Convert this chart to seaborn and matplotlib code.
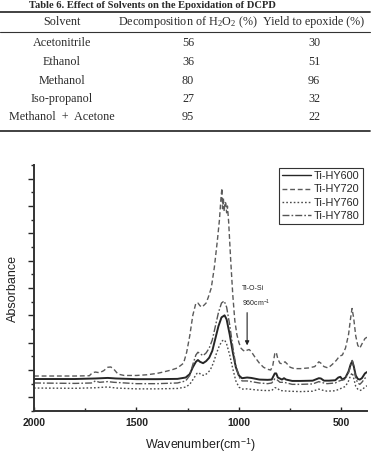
import matplotlib
matplotlib.use("Agg")
import matplotlib.pyplot as plt
from matplotlib.lines import Line2D
import seaborn as sns
import pandas as pd

# ---------------- table data ----------------
table_title = "Table 6. Effect of Solvents on the Epoxidation of DCPD"
col_headers = ["Solvent", "Decomposition of H$_\\mathrm{2}$O$_\\mathrm{2}$ (%)", "Yield to epoxide (%)"]
solvents = ["Acetonitrile", "Ethanol", "Methanol", "Iso-propanol", "Methanol  +  Acetone"]
decomposition = [56, 36, 80, 27, 95]
yield_epoxide = [30, 51, 96, 32, 22]

# ---------------- spectra data (wavenumber, absorbance a.u.) ----------------
wn_600 = [2000, 1800, 1700, 1640, 1600, 1500, 1400, 1300, 1260, 1240, 1225, 1210, 1200, 1190, 1175,
          1160, 1145, 1130, 1115, 1100, 1085, 1070, 1060, 1045, 1030, 1015, 1000, 985, 960, 940, 900,
          860, 840, 825, 818, 810, 790, 780, 770, 740, 700, 640, 610, 600, 585, 560, 530, 515, 505,
          495, 480, 465, 455, 447, 440, 430, 420, 410, 400, 385, 375]
abs_600 = [2.34, 2.34, 2.38, 2.42, 2.38, 2.33, 2.33, 2.35, 2.45, 2.7, 3.2, 3.6, 3.73, 3.6, 3.5,
           3.65, 3.9, 4.4, 5.3, 6.2, 6.85, 7.0, 6.7, 5.6, 4.3, 3.2, 2.6, 2.4, 2.45, 2.42, 2.3,
           2.28, 2.3, 2.75, 2.75, 2.45, 2.3, 2.4, 2.3, 2.2, 2.2, 2.22, 2.4, 2.38, 2.22, 2.22, 2.25, 2.45, 2.5,
           2.3, 2.45, 2.9, 3.4, 3.65, 3.3, 2.6, 2.35, 2.3, 2.4, 2.75, 2.85]

wn_720 = [2000, 1900, 1800, 1730, 1715, 1700, 1680, 1660, 1640, 1625, 1610, 1590, 1560, 1500, 1450,
          1400, 1370, 1330, 1300, 1270, 1255, 1240, 1225, 1210, 1200, 1190, 1180, 1170, 1160, 1150,
          1135, 1120, 1105, 1095, 1088, 1083, 1080, 1076, 1072, 1068, 1064, 1060, 1056, 1050, 1040,
          1030, 1020, 1010, 1000, 990, 980, 970, 960, 950, 940, 920, 900, 880, 860, 845, 835, 825,
          818, 810, 800, 790, 775, 765, 750, 730, 700, 660, 630, 610, 600, 585, 565, 545, 525, 510,
          495, 480, 465, 455, 448, 440, 430, 420, 410, 400, 385, 375]
abs_720 = [2.56, 2.56, 2.56, 2.58, 2.8, 2.85, 2.8, 2.95, 3.2, 3.22, 3.05, 2.7, 2.6, 2.6, 2.65,
           2.75, 2.85, 3.0, 3.15, 3.5, 4.3, 5.5, 7.0, 7.9, 7.9, 7.7, 7.6, 7.75, 7.9, 8.3,
           9.0, 10.5, 12.5, 14.0, 15.5, 16.3, 14.8, 15.6, 14.6, 15.3, 15.2, 14.5, 15.0, 13.8, 11.0,
           8.5, 6.6, 5.6, 5.0, 4.6, 4.45, 4.35, 4.45, 4.5, 4.35, 3.9, 3.5, 3.2, 3.05, 3.0, 3.3, 4.2,
           4.3, 3.8, 3.5, 3.45, 3.6, 3.45, 3.2, 3.1, 3.1, 3.15, 3.25, 3.6, 3.5, 3.25, 3.15, 3.4, 3.7, 4.0,
           4.1, 4.6, 5.6, 6.8, 7.5, 6.8, 5.5, 4.8, 4.6, 4.9, 5.3, 5.4]

wn_760 = [2000, 1800, 1700, 1640, 1600, 1500, 1400, 1300, 1260, 1240, 1220, 1205, 1195, 1185, 1170,
          1155, 1140, 1125, 1110, 1095, 1080, 1070, 1060, 1045, 1030, 1015, 1000, 985, 960, 920, 880,
          840, 825, 815, 800, 760, 700, 640, 610, 600, 570, 530, 510, 495, 480, 465, 455, 447, 440,
          430, 420, 410, 400, 385, 375]
abs_760 = [1.68, 1.66, 1.7, 1.76, 1.68, 1.62, 1.62, 1.65, 1.75, 1.95, 2.4, 2.75, 2.8, 2.65, 2.6,
           2.75, 3.0, 3.5, 4.2, 4.8, 5.15, 5.2, 4.9, 4.1, 3.1, 2.2, 1.75, 1.6, 1.62, 1.55, 1.5,
           1.5, 1.7, 1.7, 1.5, 1.45, 1.42, 1.45, 1.6, 1.55, 1.45, 1.48, 1.6, 1.7, 1.8, 2.2, 2.6, 2.8, 2.4,
           1.8, 1.6, 1.5, 1.55, 1.75, 1.85]

wn_780 = [2000, 1800, 1720, 1700, 1680, 1640, 1610, 1500, 1400, 1300, 1260, 1240, 1225, 1210, 1200,
          1190, 1175, 1160, 1145, 1130, 1115, 1100, 1085, 1072, 1060, 1045, 1030, 1015, 1000, 985, 960,
          900, 860, 840, 825, 815, 800, 780, 740, 700, 640, 610, 600, 570, 530, 510, 500, 485, 465,
          455, 447, 440, 430, 420, 410, 400, 385, 375]
abs_780 = [2.05, 2.02, 2.05, 2.2, 2.1, 2.15, 2.1, 2.0, 2.0, 2.05, 2.2, 2.6, 3.4, 4.1, 4.3,
           4.2, 4.05, 4.25, 4.6, 5.2, 6.2, 7.2, 7.9, 8.05, 7.6, 6.3, 4.7, 3.3, 2.5, 2.2, 2.2,
           2.05, 2.0, 2.05, 2.35, 2.3, 2.1, 2.1, 1.95, 1.95, 1.98, 2.15, 2.1, 2.0, 2.05, 2.2, 2.25, 2.3, 2.8,
           3.3, 3.7, 3.2, 2.4, 2.05, 1.95, 2.1, 2.4, 2.5]

samples = ["Ti-HY600", "Ti-HY720", "Ti-HY760", "Ti-HY780"]
x_ticks = [2000, 1500, 1000, 500]

# ---------------- styling ----------------
sns.set_style("ticks")
plt.rcParams["font.family"] = ["Liberation Sans", "DejaVu Sans"]
plt.rcParams["mathtext.fontset"] = "custom"
plt.rcParams["mathtext.rm"] = "Liberation Serif"
plt.rcParams["mathtext.sf"] = "Liberation Sans"
plt.rcParams["mathtext.it"] = "Liberation Serif:italic"

W, H = 372, 458
fig = plt.figure(figsize=(W / 100, H / 100), dpi=100)

def fy(py):
    return 1 - py / H

def fx(px):
    return px / W

# ---------------- table ----------------
serif = ["Liberation Serif", "DejaVu Serif"]
tcol = "#2a2a2a"
fig.text(fx(152), fy(5.2), table_title, family=serif, fontsize=7.6, fontweight="bold",
         ha="center", va="center", color=tcol)
for py, lw in [(12, 1.3), (32, 0.8), (131, 1.3)]:
    fig.add_artist(Line2D([0, fx(370)], [fy(py), fy(py)], color="#333333", lw=lw,
                          transform=fig.transFigure))
col_x = [62, 188, 314]
for cx, txt in zip(col_x, col_headers):
    fig.text(fx(cx), fy(22), txt, family=serif, fontsize=8.7, ha="center", va="center", color=tcol)
row_y = [43, 62, 81, 99, 117]
for ry, s, d, yv in zip(row_y, solvents, decomposition, yield_epoxide):
    fig.text(fx(col_x[0]), fy(ry), s, family=serif, fontsize=8.7, ha="center", va="center", color=tcol)
    fig.text(fx(col_x[1]), fy(ry), str(d), family=serif, fontsize=8.7, ha="center", va="center", color=tcol)
    fig.text(fx(col_x[2]), fy(ry), str(yv), family=serif, fontsize=8.7, ha="center", va="center", color=tcol)

# ---------------- spectra ----------------
frames = []
for name, wn, ab in [("Ti-HY600", wn_600, abs_600), ("Ti-HY720", wn_720, abs_720),
                     ("Ti-HY760", wn_760, abs_760), ("Ti-HY780", wn_780, abs_780)]:
    frames.append(pd.DataFrame({"Wavenumber": wn, "Absorbance": ab, "Sample": name}))
df = pd.concat(frames, ignore_index=True)

ax = fig.add_axes([fx(34), 1 - 411 / H, (367 - 34) / W, (411 - 165) / H])
palette = {"Ti-HY600": "#262626", "Ti-HY720": "#5a5a5a", "Ti-HY760": "#4a4a4a", "Ti-HY780": "#555555"}
dashes = {"Ti-HY600": "", "Ti-HY720": (3.5, 2.0), "Ti-HY760": (1.2, 1.5), "Ti-HY780": (5, 1.5, 1.2, 1.5)}
sns.lineplot(data=df, x="Wavenumber", y="Absorbance", hue="Sample", style="Sample",
             palette=palette, dashes=dashes, hue_order=samples, style_order=samples,
             estimator=None, sort=False, linewidth=1.0, ax=ax)
ax.get_lines()[0].set_linewidth(1.4)

ax.set_xlim(2000, 375)
ax.set_ylim(0, 18)
ax.set_xticks(x_ticks)
ax.set_xticks([1750, 1250, 750], minor=True)
ax.set_xticklabels([str(t) for t in x_ticks], fontsize=7.5, fontweight="bold")
ax.set_yticks(list(range(1, 18, 2)))
ax.set_yticks(list(range(0, 19, 2)), minor=True)
ax.set_yticklabels([])
ax.tick_params(axis="x", which="major", direction="in", length=3, width=1.0, pad=5, colors="#222222")
ax.tick_params(axis="x", which="minor", direction="in", length=2, width=1.0)
ax.tick_params(axis="y", which="major", direction="out", length=4, width=1.0)
ax.tick_params(axis="y", which="minor", direction="out", length=2.5, width=1.0)
sns.despine(ax=ax)
for sp in ["left", "bottom"]:
    ax.spines[sp].set_linewidth(1.4)
    ax.spines[sp].set_color("#333333")
ax.set_xlabel("Wavenumber(cm$^{\\mathsf{-1}}$)", fontsize=9, labelpad=6, color="#222222")
ax.set_ylabel("Absorbance", fontsize=9, color="#222222")
ax.yaxis.set_label_coords(-0.045, 0.5)

leg = ax.legend(loc="upper right", bbox_to_anchor=((363 - 34) / 333, (411 - 168) / 246),
                borderaxespad=0, fontsize=7.8, handlelength=2.7, handletextpad=0.25,
                labelspacing=0.3, borderpad=0.3, fancybox=False, framealpha=1, title=None)
leg.get_frame().set_edgecolor("#333333")
leg.get_frame().set_linewidth(0.8)

ax.annotate("", xy=(960, 4.6), xytext=(960, 7.4),
            arrowprops=dict(arrowstyle="-|>", color="#222222", lw=0.8, mutation_scale=6))
ax.text(985, 9.0, "Ti-O-Si", fontsize=5, ha="left", va="center", color="#222222")
ax.text(985, 7.9, "960cm$^{\\mathsf{-1}}$", fontsize=5, ha="left", va="center", color="#222222")

fig.savefig("out.png", dpi=100)
